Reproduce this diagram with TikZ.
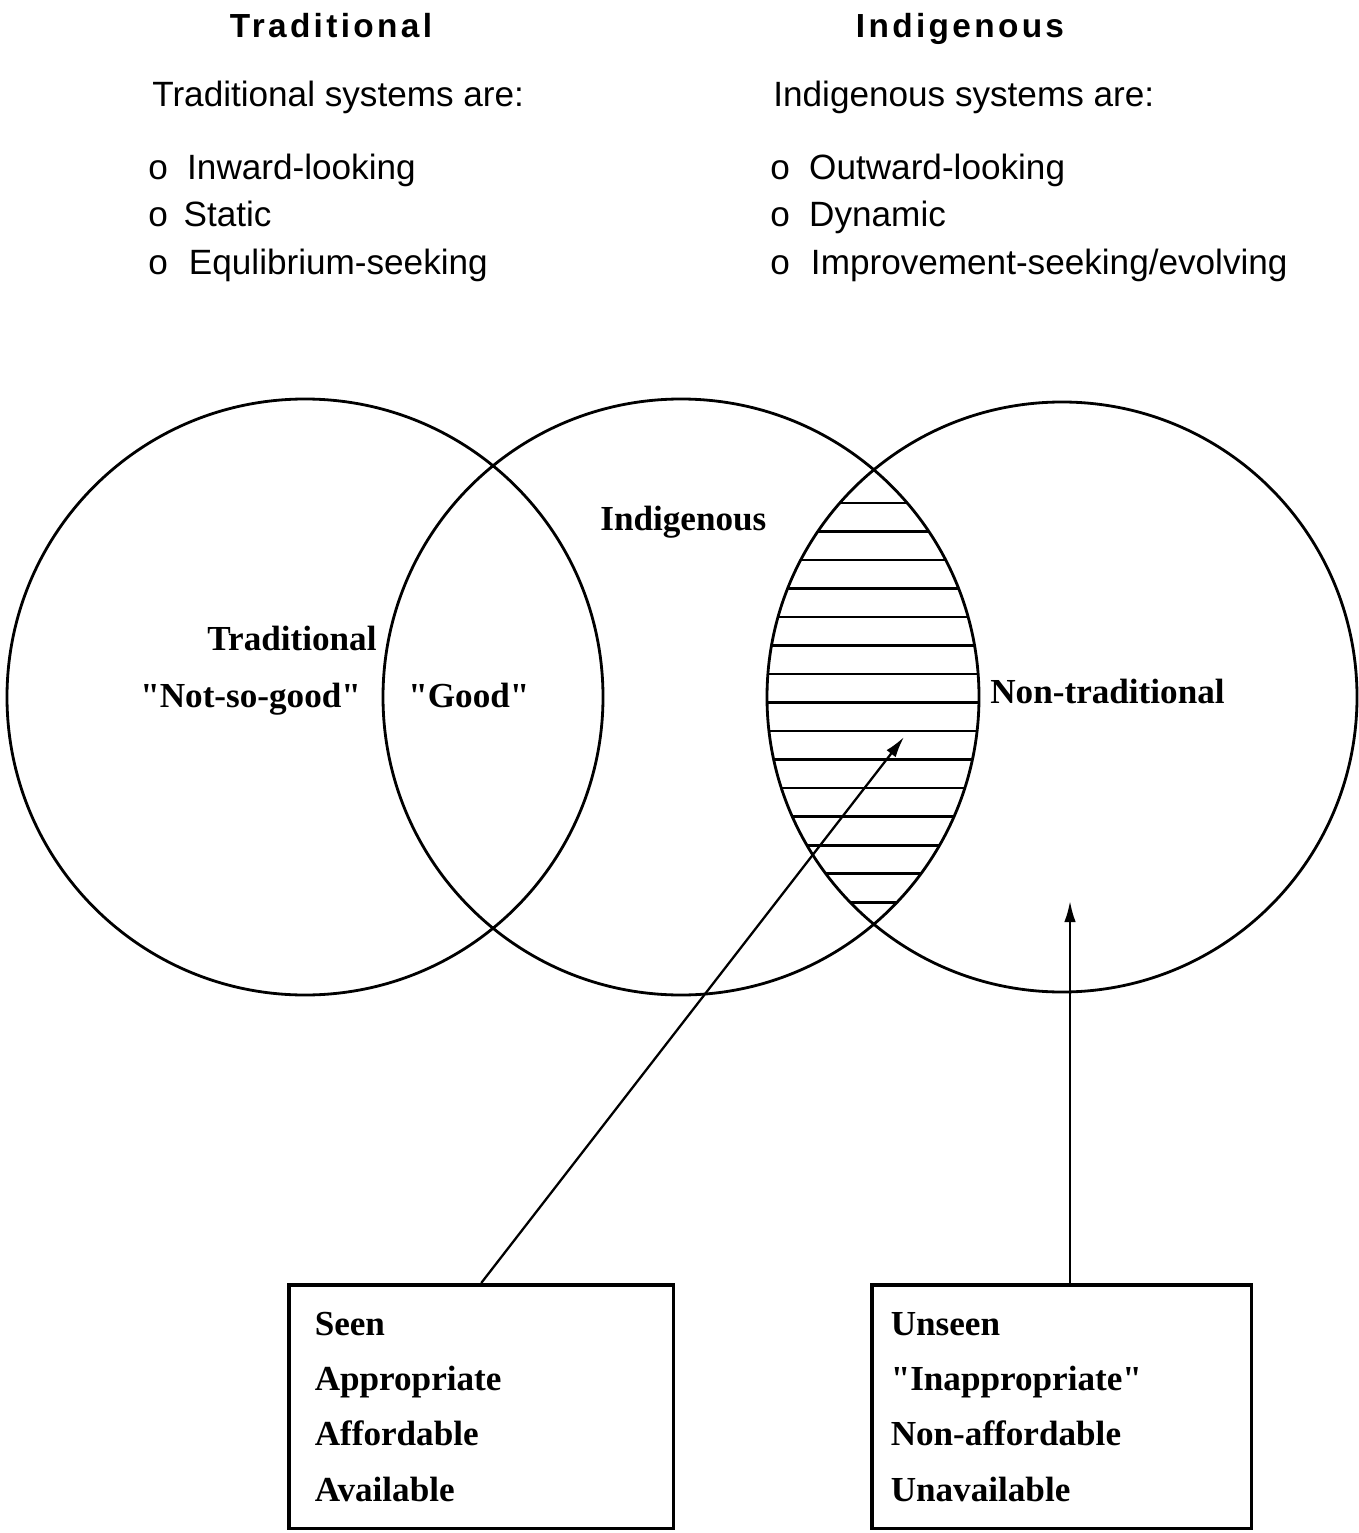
\documentclass[tikz,border=0pt]{standalone}
\usepackage{fontspec}
\setmainfont{Liberation Serif}[Ligatures=TeXOff]
\setsansfont{Liberation Sans}
\usepackage{tikz}
\usetikzlibrary{positioning,arrows.meta}
\tikzset{
  vhead/.style={font=\sffamily\bfseries\fontsize{19}{23}\selectfont\addfontfeature{LetterSpace=10},anchor=base,inner sep=0pt},
  vlist/.style={font=\sffamily\fontsize{20}{24}\selectfont,anchor=base west,inner sep=0pt},
  vlabel/.style={font=\bfseries\fontsize{20}{24}\selectfont,anchor=base west,inner sep=0pt},
  vset/.style={draw=black,line width=1.6pt},
  vhatch/.style={draw=black,line width=1.7pt},
  vcard/.style={draw=black,line width=2pt,anchor=north west,align=left,minimum height=4.88cm,font=\bfseries\fontsize{20}{31.5}\selectfont},
  vpoint/.style={-{Latex[length=4.2mm,width=2.3mm]},draw=black,line width=1.3pt}
}

\begin{document}
\begin{tikzpicture}[x=0.02cm,y=-0.02cm]
  \useasboundingbox (0,0) rectangle (1358,1533);
  % column headings and lists
  \node[vhead] (tradhead) at (331,38) {Traditional};
  \node[vhead] (indhead) at (960,38) {Indigenous};
  \node[vlist] (tradintro) at (152,107) {Traditional systems are:};
  \node[vlist] (tradi) at (148,180) {o\hspace{0.55em}Inward-looking};
  \node[vlist] (tradii) at (148,227) {o\hspace{0.45em}Static};
  \node[vlist] (tradiii) at (148,275) {o\hspace{0.6em}Equlibrium-seeking};
  \node[vlist] (indintro) at (773,107) {Indigenous systems are:};
  \node[vlist] (indi) at (770,180) {o\hspace{0.55em}Outward-looking};
  \node[vlist] (indii) at (770,227) {o\hspace{0.55em}Dynamic};
  \node[vlist] (indiii) at (770,275) {o\hspace{0.6em}Improvement-seeking/evolving};
  % hatched overlap
  \begin{scope}
    \clip (681,697) circle[radius=298];
    \clip (1062,697) circle[radius=295];
    \foreach \y in {503,531.5,...,903}
      \draw[vhatch] (750,\y) -- (1000,\y);
  \end{scope}
  % the three sets
  \draw[vset] (305,697) circle[radius=298];
  \draw[vset] (681,697) circle[radius=298];
  \draw[vset] (1062,697) circle[radius=295];
  \node[vlabel] (trad) at (207,650) {Traditional};
  \node[vlabel] (notgood) at (140,707) {"Not-so-good"};
  \node[vlabel] (good) at (408,707) {"Good"};
  \node[vlabel] (ind) at (600,530) {Indigenous};
  \node[vlabel] (nontrad) at (990,703) {Non-traditional};
  % boxes
  \node[vcard,text width=6.66cm,inner xsep=0.52cm] (seen) at (287,1283)
    {Seen\\Appropriate\\Affordable\\Available};
  \node[vcard,text width=6.84cm,inner xsep=0.38cm] (unseen) at (870,1283)
    {Unseen\\"Inappropriate"\\Non-affordable\\Unavailable};
  \coordinate (seentip) at (904,737);
  \coordinate (unseentip) at (1070,901);
  \draw[vpoint] (seen.north) -- (seentip);
  \draw[vpoint] (unseen.north -| unseentip) -- (unseentip);
\end{tikzpicture}
\end{document}
